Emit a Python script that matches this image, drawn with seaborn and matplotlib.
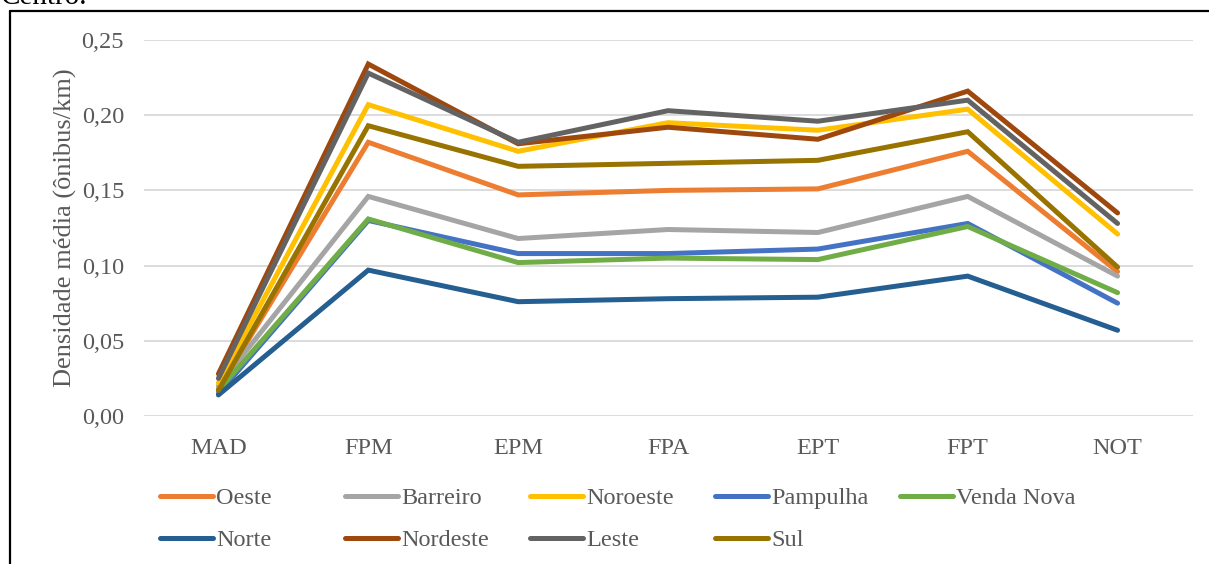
import seaborn as sns
import matplotlib.pyplot as plt
import pandas as pd
from matplotlib.lines import Line2D

# categorias do eixo x
periodos = ["MAD", "FPM", "EPM", "FPA", "EPT", "FPT", "NOT"]

# densidade media (onibus/km) por regional
oeste = [0.018, 0.182, 0.147, 0.150, 0.151, 0.176, 0.096]
barreiro = [0.020, 0.146, 0.118, 0.124, 0.122, 0.146, 0.093]
noroeste = [0.022, 0.207, 0.176, 0.195, 0.190, 0.204, 0.121]
pampulha = [0.015, 0.130, 0.108, 0.108, 0.111, 0.128, 0.075]
venda_nova = [0.017, 0.131, 0.102, 0.105, 0.104, 0.126, 0.082]
norte = [0.014, 0.097, 0.076, 0.078, 0.079, 0.093, 0.057]
nordeste = [0.028, 0.234, 0.181, 0.192, 0.184, 0.216, 0.135]
leste = [0.025, 0.228, 0.182, 0.203, 0.196, 0.210, 0.128]
sul = [0.017, 0.193, 0.166, 0.168, 0.170, 0.189, 0.099]

regionais = ["Oeste", "Barreiro", "Noroeste", "Pampulha", "Venda Nova",
             "Norte", "Nordeste", "Leste", "Sul"]
valores = [oeste, barreiro, noroeste, pampulha, venda_nova,
           norte, nordeste, leste, sul]
cores = ["#ED7D31", "#A5A5A5", "#FFC000", "#4472C4", "#70AD47",
         "#255E91", "#9E480E", "#636363", "#997300"]

linhas = []
for nome, vals in zip(regionais, valores):
    for p, v in zip(periodos, vals):
        linhas.append({"Periodo": p, "Densidade": v, "Regional": nome})
df = pd.DataFrame(linhas)

sns.set_style("white")
plt.rcParams["font.family"] = ["Liberation Serif", "DejaVu Serif"]

W, H = 1209, 564
fig = plt.figure(figsize=(W / 100, H / 100), dpi=100)
ax = fig.add_axes([143.5 / W, 1 - 416 / H, (1192.5 - 143.5) / W, 376 / H])

sns.lineplot(data=df, x="Periodo", y="Densidade", hue="Regional",
             hue_order=regionais, palette=cores, sort=False,
             linewidth=3.6, ax=ax, legend=False)
for ln in ax.get_lines():
    ln.set_solid_capstyle("round")
    ln.set_solid_joinstyle("miter")

ax.set_xlim(-0.5, 6.5)
ax.set_ylim(0, 0.25)
ax.set_yticks([0, 0.05, 0.10, 0.15, 0.20, 0.25])
ax.set_yticklabels(["0,00", "0,05", "0,10", "0,15", "0,20", "0,25"])
ax.yaxis.grid(True, color="#D9D9D9", linewidth=1.3)
ax.set_axisbelow(True)
for s in ax.spines.values():
    s.set_visible(False)
ax.tick_params(axis="both", length=0, labelsize=17.5, colors="#595959")
ax.tick_params(axis="y", pad=14)
ax.tick_params(axis="x", pad=16)
ax.set_xlabel("")
ax.set_ylabel("Densidade média (ônibus/km)", fontsize=19, color="#595959", labelpad=3)

# legenda: 5 colunas igualmente espacadas, duas linhas
colunas = [["Oeste", "Norte"], ["Barreiro", "Nordeste"], ["Noroeste", "Leste"],
           ["Pampulha", "Sul"], ["Venda Nova"]]
x_col = [160, 345, 530, 715, 900]
for xc, nomes in zip(x_col, colunas):
    hs = [Line2D([0], [0], color=cores[regionais.index(n)], linewidth=3.6,
                 solid_capstyle="round") for n in nomes]
    fig.legend(hs, nomes, loc="upper left", bbox_to_anchor=(xc / W, 1 - 487 / H),
               ncol=1, frameon=False, fontsize=17.5, handlelength=2.2,
               handletextpad=0.1, labelspacing=0.83, borderpad=0, borderaxespad=0,
               labelcolor="#595959")

# moldura e texto cortado do documento
fig.add_artist(Line2D([10 / W, 10 / W], [0, 1 - 10.5 / H], color="black",
                      linewidth=1.6, transform=fig.transFigure))
fig.add_artist(Line2D([10 / W, 1], [1 - 10.5 / H, 1 - 10.5 / H], color="black",
                      linewidth=1.6, transform=fig.transFigure))
fig.text(0.5 / W, 1 - 4 / H, "Centro.", fontsize=21, color="black", va="baseline")

fig.savefig("out.png", dpi=100)
